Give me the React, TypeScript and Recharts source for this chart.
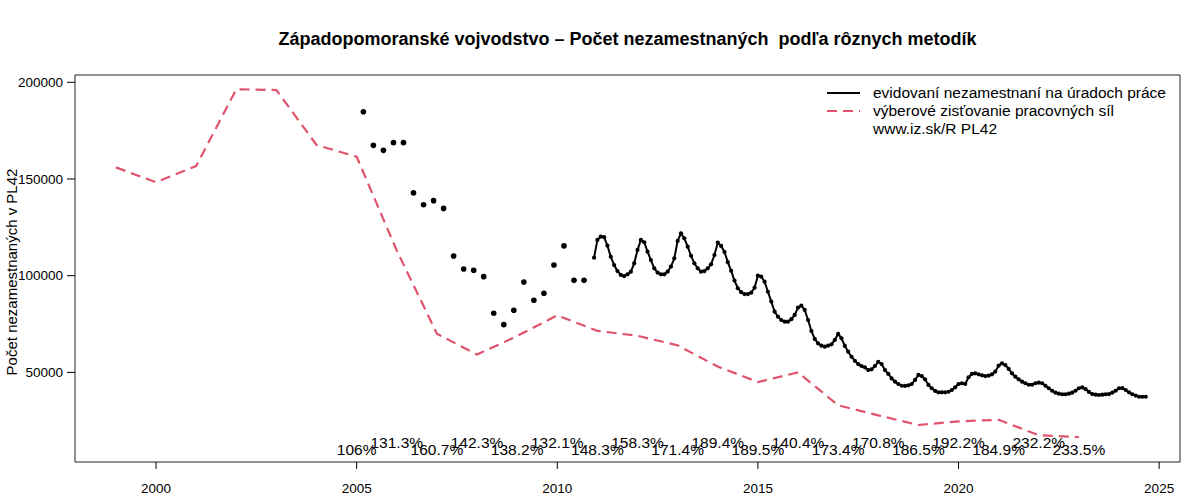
import { ComposedChart, Line, Scatter, XAxis, YAxis, Legend, ReferenceArea } from "recharts"

// LFS (výberové zisťovanie) yearly estimates
const lfsYears = [
  1999, 2000, 2001, 2002, 2003, 2004, 2005, 2006, 2007, 2008, 2009, 2010, 2011,
  2012, 2013, 2014, 2015, 2016, 2017, 2018, 2019, 2020, 2021, 2022, 2023,
]
const lfsValues = [
  156000, 148300, 156700, 196400, 196000, 167600, 161500, 113000, 70000, 59200,
  68800, 79500, 71500, 68900, 64000, 53000, 45000, 50000, 33000, 27800, 22800,
  24700, 25500, 17500, 16500,
]

// registered unemployed, quarterly (Mar 2005 .. Sep 2010)
const quarterlyStartYear = 2005
const quarterlyStartMonth = 3
const registeredQuarterly = [
  184800, 167400, 164800, 168800, 168800, 142800, 136700, 138800, 134800,
  110200, 103500, 102800, 99500, 80600, 74700, 82100, 96700, 87300, 90900,
  105500, 115400, 97600, 97600,
]

// registered unemployed, monthly (Dec 2010 .. Sep 2024)
const monthlyStartYear = 2010
const monthlyStartMonth = 12
const registeredMonthly = [
  109300,
  118500, 120200, 119900, 115500, 109800, 105500, 102400, 100400, 99800, 100700, 102100, 106400,
  113300, 118500, 117300, 112400, 108100, 103800, 101600, 100700, 100700, 102100, 104700, 109000,
  118000, 121900, 119300, 115000, 110300, 106400, 103800, 102100, 102400, 103800, 105900, 110700,
  117100, 115400, 112300, 107000, 102500, 97500, 93500, 91500, 90500, 90500, 91200, 93800,
  100000, 99500, 96900, 91700, 86600, 81400, 78800, 77100, 76200, 76200, 77500, 79700,
  83500, 84500, 82300, 77100, 71400, 67300, 65000, 63800, 63300, 63800, 64500, 66800,
  69900, 67600, 63700, 60700, 58100, 56000, 54300, 53300, 52600, 51200, 51600, 53300,
  55500, 54300, 51200, 49200, 46900, 45200, 44000, 43100, 43000, 43300, 44000, 46100,
  48700, 48100, 46400, 43500, 41800, 40400, 39700, 39700, 39700, 40000, 40900, 42300,
  44000, 44400, 44000, 47500, 49200, 49500, 49000, 48500, 48100, 48300, 49000, 50400,
  53500, 54700, 53800, 51800, 49500, 47800, 46400, 45200, 44400, 43600, 43600, 44400,
  44700, 44400, 43100, 41800, 40500, 39500, 39000, 38700, 38700, 39000, 39500, 40500,
  41800, 42300, 41300, 39900, 38800, 38500, 38300, 38500, 38700, 38800, 39500, 40500,
  41800, 41900, 40900, 39700, 38700, 38000, 37400, 37400, 37400,
]

// ratio registered / LFS per year
const ratioYears = [
  2005, 2006, 2007, 2008, 2009, 2010, 2011, 2012, 2013, 2014, 2015, 2016, 2017,
  2018, 2019, 2020, 2021, 2022, 2023,
]
const ratioLabels = [
  "106%", "131.3%", "160.7%", "142.3%", "138.2%", "132.1%", "148.3%", "158.3%",
  "171.4%", "189.4%", "189.5%", "140.4%", "173.4%", "170.8%", "186.5%", "192.2%",
  "184.9%", "232.2%", "233.5%",
]
const ratioLabelLevels = [10000, 13500]

const xTicks = [2000, 2005, 2010, 2015, 2020, 2025]
const yTicks = [50000, 100000, 150000, 200000]

const X_DOMAIN = [1997.98, 2025.52]
const Y_DOMAIN = [3670, 203770]

const RED = "#DF536B"
const FONT = "'Liberation Sans', Arial, Helvetica, sans-serif"

const lfsData = lfsYears.map((x, i) => ({ x, v: lfsValues[i] }))
const quarterlyData = registeredQuarterly.map((v, i) => ({
  x: quarterlyStartYear + (quarterlyStartMonth - 1 + i * 3) / 12,
  v,
}))
const monthlyData = registeredMonthly.map((v, i) => ({
  x: monthlyStartYear + (monthlyStartMonth - 1 + i) / 12,
  v,
}))
const ratioData = ratioYears.map((x, i) => ({
  x,
  v: ratioLabelLevels[i % 2],
  label: ratioLabels[i],
}))

function RatioText(props: any) {
  const { cx, cy, payload } = props
  return (
    <text
      x={cx}
      y={cy}
      textAnchor="middle"
      dominantBaseline="central"
      fontSize={15.5}
      fontFamily={FONT}
      fill="#000"
    >
      {payload.label}
    </text>
  )
}

function LegendBox() {
  const row = { display: "flex", alignItems: "center", height: 18, whiteSpace: "nowrap" as const }
  return (
    <div style={{ fontFamily: FONT, fontSize: 15.5, color: "#000" }}>
      <div style={row}>
        <svg width={52} height={18}>
          <line x1={6} y1={9} x2={39} y2={9} stroke="#000" strokeWidth={2} />
        </svg>
        <span>evidovaní nezamestnaní na úradoch práce</span>
      </div>
      <div style={row}>
        <svg width={52} height={18}>
          <line x1={6} y1={9} x2={39} y2={9} stroke={RED} strokeWidth={2} strokeDasharray="10 6" />
        </svg>
        <span>výberové zisťovanie pracovných síl</span>
      </div>
      <div style={row}>
        <svg width={52} height={18} />
        <span>www.iz.sk/R PL42</span>
      </div>
    </div>
  )
}

function YLabel() {
  return (
    <text
      x={11}
      y={272}
      transform="rotate(-90 11 272)"
      textAnchor="middle"
      dominantBaseline="central"
      fontSize={15}
      fontFamily={FONT}
      fill="#000"
    >
      Počet nezamestnaných v PL42
    </text>
  )
}

export default function App() {
  return (
    <div
      style={{
        position: "absolute",
        left: 0,
        top: 0,
        width: 1200,
        height: 500,
        background: "#fff",
        fontFamily: FONT,
      }}
    >
      <div
        style={{
          position: "absolute",
          top: 29,
          left: 75,
          width: 1105,
          textAlign: "center",
          fontSize: 18,
          fontWeight: "bold",
          whiteSpace: "pre",
        }}
      >
        {"Západopomoranské vojvodstvo – Počet nezamestnaných  podľa rôznych metodík"}
      </div>
      <ComposedChart
        width={1200}
        height={500}
        margin={{ top: 75, right: 20, bottom: 0, left: 0 }}
        style={{ fontFamily: FONT }}
      >
        <XAxis
          dataKey="x"
          type="number"
          domain={X_DOMAIN}
          allowDataOverflow
          ticks={xTicks}
          height={38}
          axisLine={false}
          tickSize={7}
          tickMargin={14}
          tickLine={{ stroke: "#000" }}
          tick={{ fill: "#000", fontSize: 13.5 }}
        />
        <YAxis
          type="number"
          domain={Y_DOMAIN}
          allowDataOverflow
          ticks={yTicks}
          width={75}
          axisLine={false}
          tickSize={8}
          tickMargin={4}
          tickLine={{ stroke: "#000" }}
          tick={{ fill: "#000", fontSize: 13.5 }}
          label={<YLabel />}
        />
        <ReferenceArea
          x1={X_DOMAIN[0]}
          x2={X_DOMAIN[1]}
          y1={Y_DOMAIN[0]}
          y2={Y_DOMAIN[1]}
          fill="none"
          stroke="#222"
          strokeWidth={1}
          ifOverflow="visible"
        />
        <Line
          data={lfsData}
          dataKey="v"
          stroke={RED}
          strokeWidth={2.2}
          strokeDasharray="10 6"
          dot={false}
          activeDot={false}
          isAnimationActive={false}
        />
        <Line
          data={quarterlyData}
          dataKey="v"
          stroke="none"
          dot={{ r: 2.8, fill: "#000", stroke: "none" }}
          activeDot={false}
          isAnimationActive={false}
        />
        <Line
          data={monthlyData}
          dataKey="v"
          stroke="#000"
          strokeWidth={2}
          dot={{ r: 2.1, fill: "#000", stroke: "none" }}
          activeDot={false}
          isAnimationActive={false}
        />
        <Scatter
          data={ratioData}
          dataKey="v"
          shape={<RatioText />}
          isAnimationActive={false}
        />
        <Legend
          layout="horizontal"
          verticalAlign="middle"
          align="center"
          wrapperStyle={{ position: "absolute", top: 84, left: 821, width: 370 }}
          content={() => <LegendBox />}
        />
      </ComposedChart>
    </div>
  )
}
